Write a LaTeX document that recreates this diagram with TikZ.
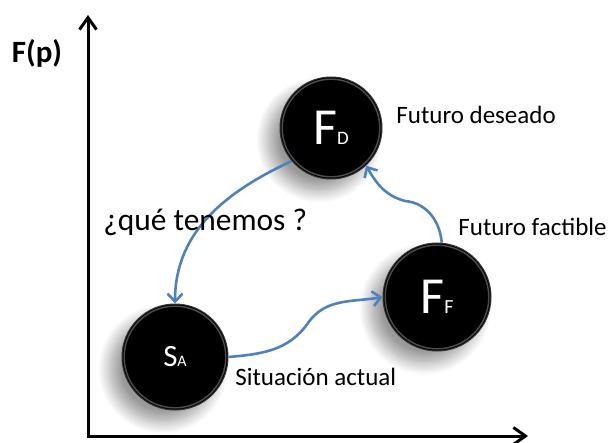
\documentclass[tikz,border=0pt]{standalone}
\usepackage{fontspec}
\setmainfont{Carlito}
\usetikzlibrary{arrows.meta,shadows.blur,positioning}
\definecolor{linkblue}{RGB}{79,129,189}

\begin{document}
\begin{tikzpicture}[
      x=0.5pt,y=-0.5pt,
      ball/.style={circle,fill=black,draw=black!80,line width=0.5pt,minimum size=#1,inner sep=0pt,text=white,
        blur shadow={shadow xshift=-6pt,shadow yshift=-6pt,shadow blur steps=14,shadow blur radius=6pt,shadow opacity=40},
        path picture={\draw[white,opacity=.3,line width=.7pt] (path picture bounding box.center) circle[radius=#1/2-1.1pt];}},
      lbl/.style={anchor=west,inner sep=0pt,font=\fontsize{12.5}{14}\selectfont},
      axis/.style={line width=1.5pt,{Straight Barb[length=6pt,width=8.5pt]}-{Straight Barb[length=6pt,width=8.5pt]}},
      link/.style={draw=linkblue,line width=1.3pt,-{Straight Barb[length=4pt,width=7.5pt]}}
    ]
    \useasboundingbox (0,0) rectangle (610,443);
    % axes
    \coordinate (ytop) at (88,15);
    \coordinate (xend) at (528,436);
    \draw[axis] (ytop) |- (xend);
    \node[inner sep=0pt,font=\bfseries\fontsize{15.5}{18}\selectfont] (fp) at (37,53) {F(p)};
    % states
    \node[ball=51pt] (fd) at (331,128) {\fontsize{26}{26}\selectfont F\fontsize{9.5}{10}\selectfont D};
    \node[ball=54pt] (ff) at (437,297) {\fontsize{26}{26}\selectfont F\fontsize{10}{10}\selectfont F};
    \node[ball=53pt] (sa) at (175,357) {\fontsize{15.5}{16}\selectfont S\fontsize{8}{8}\selectfont A};
    % links
    \coordinate (bend1) at (308,323);
    \coordinate (bend2) at (405,201);
    \draw[link] (fd.220) to[out=205,in=90] (sa.north);
    \draw[link] (sa.east) to[out=5,in=235] (bend1) to[out=55,in=190] (ff.west);
    \draw[link] (ff.85) to[out=95,in=-5] (bend2) to[out=165,in=-60] (fd.-47);
    % labels
    \node[lbl] (fdlbl) at (396,115) {Futuro deseado};
    \node[lbl] (fflbl) at (458,227) {Futuro factible};
    \node[lbl] (salbl) at (235,377) {Situación actual};
    \node[lbl,font=\fontsize{15.7}{18}\selectfont] (ask) at (103,222) {¿qué tenemos ?};
  \end{tikzpicture}
\end{document}
